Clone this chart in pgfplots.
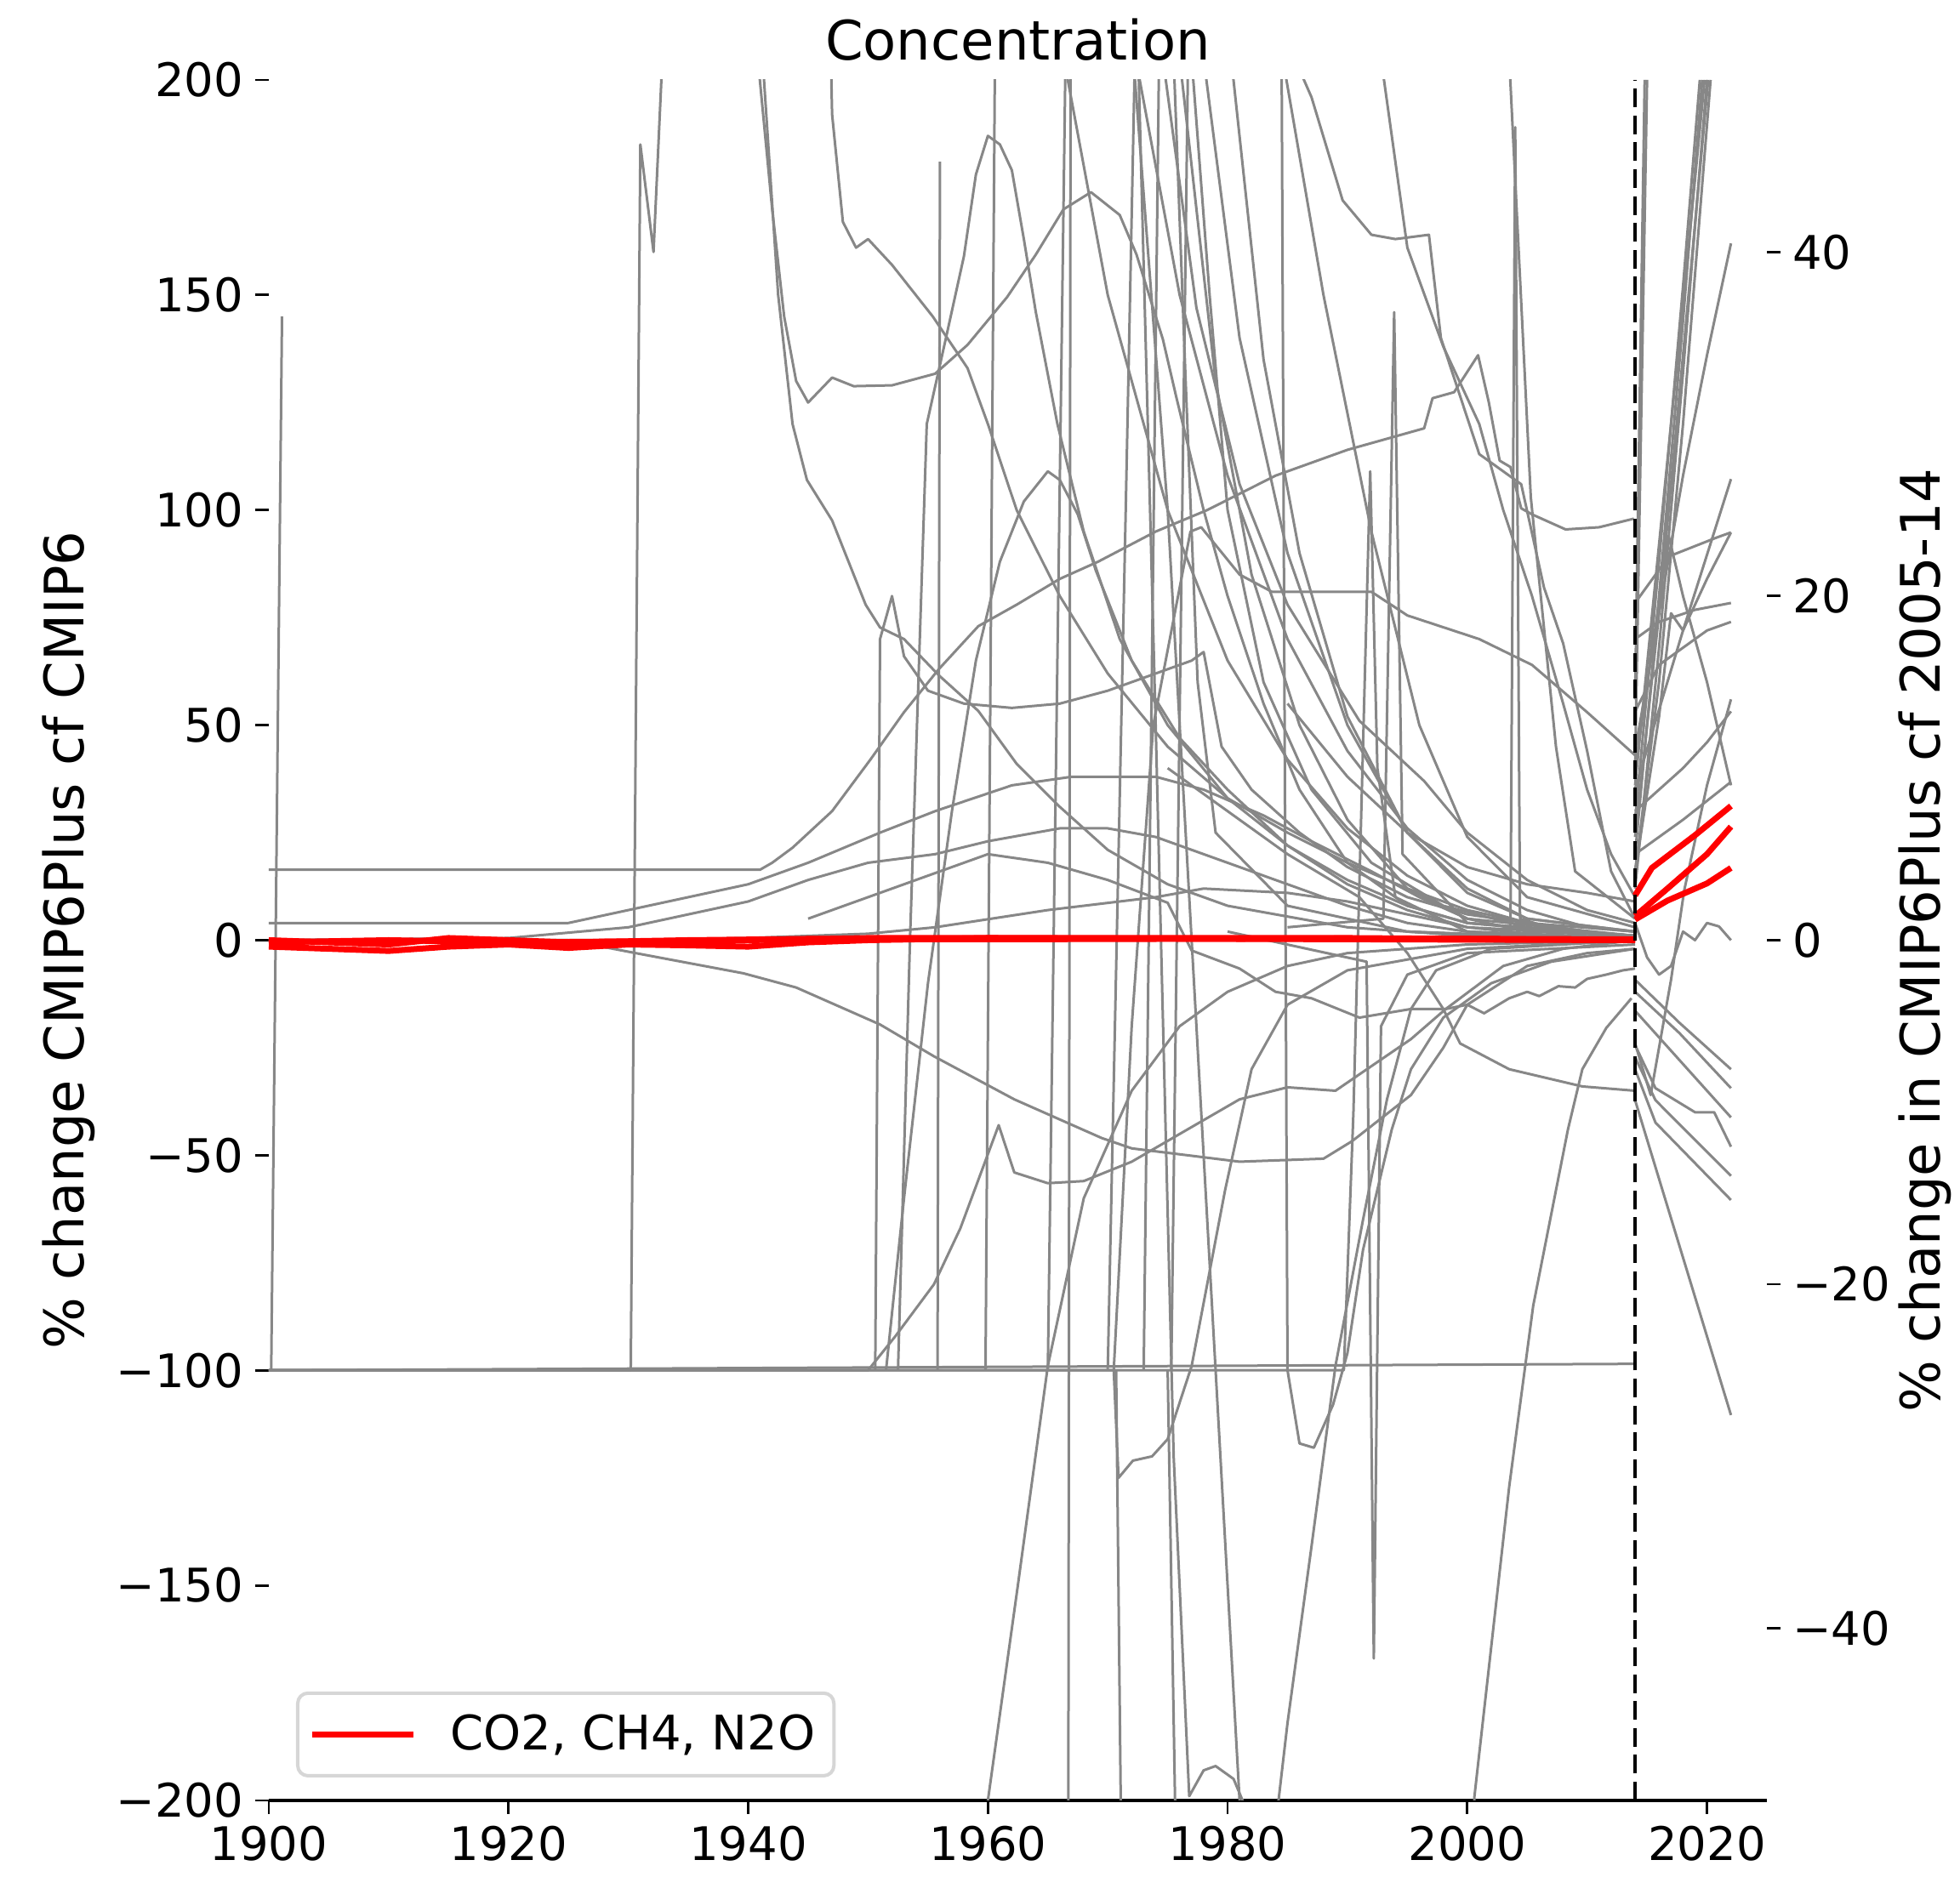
\documentclass[border=0pt]{standalone}
\usepackage{fontspec}
\setmainfont{DejaVu Sans}
\usepackage{pgfplots}
\pgfplotsset{compat=1.18}
\definecolor{lg}{RGB}{135,135,135}
\definecolor{rd}{RGB}{255,0,0}
\definecolor{legframe}{RGB}{214,214,214}
\newcommand{\tfs}{\fontsize{13.6}{16}\selectfont}
\newcommand{\lfs}{\fontsize{16}{19}\selectfont}
\pgfplotsset{
  g/.style={color=lg, line width=0.75pt, line join=round, forget plot},
  r/.style={color=rd, line width=1.75pt, line join=round},
  base/.style={
    scale only axis, width=440.25pt, height=505.75pt,
    xmin=1900, xmax=2025,
    no markers, clip=true,
    tick align=outside, major tick length=4pt,
    every tick/.style={black, line width=0.7pt},
    tick label style={font=\tfs},
  },
}
\begin{document}
\begin{tikzpicture}
\useasboundingbox (-79pt,-22.5pt) rectangle (497pt,529.25pt);
\begin{axis}[base,
  ymin=-200, ymax=200,
  axis x line*=bottom, axis y line*=left,
  x axis line style={black, line width=0.8pt},
  y axis line style={draw=none},
  xtick={1900,1920,1940,1960,1980,2000,2020},
  xticklabels={1900,1920,1940,1960,1980,2000,2020},
  ytick={-200,-150,-100,-50,0,50,100,150,200},
  yticklabels={−200,−150,−100,−50,0,50,100,150,200},
  ylabel={\% change CMIP6Plus cf CMIP6},
  every axis y label/.style={at={(axis description cs:-0.13345,0.5)}, rotate=90, anchor=center, font=\lfs},
  title={Concentration},
  every axis title/.style={at={(axis description cs:0.5,1.0117)}, anchor=base, font=\lfs},
  legend style={at={(axis description cs:0.01817,0.01335)}, anchor=south west,
    draw=legframe, line width=1pt, rounded corners=3pt, fill=white,
    inner xsep=3.5pt, inner ysep=4.2pt, font=\fontsize{14}{16}\selectfont,
    nodes={inner sep=2pt},
    /tikz/every odd column/.append style={column sep=8.2pt}},
  legend cell align=left,
  legend image code/.code={\draw[#1] (0pt,0pt) -- (29.5pt,0pt);},
]
% bottom flat -100 line
\addplot[g] coordinates {(1900,-100)(2014,-98.5)};
\addplot[g] coordinates {(1900.2,-100)(1901.1,145)};
\addplot[g] coordinates {(1900,-100)(1930.2,-100)(1931,185)(1932.1,160)(1933,215)};
% 16 line
\addplot[g] coordinates {(1900,16.4)(1941,16.4)(1942,18)(1943.7,21.5)(1947,30)(1950.2,42)(1953,53)(1955.9,63)(1959.2,73)(1962.4,78)(1966,84)(1969.2,88)(1974,95)(1978.3,100)(1984,108)(1990,114)(1996.4,119)(1997.1,126)(1998.9,127.4)(2000.9,136)(2001.8,125)(2002.7,111.5)(2003.6,110)(2004.5,100.4)(2005.4,99)(2008.2,95.5)(2011,96)(2013.9,98)};
% D1 hump 174
\addplot[g] coordinates {(1940.8,205)(1942,170)(1943,145)(1944,130)(1945,125)(1947,130.8)(1948.8,128.8)(1952,129)(1955.6,131.7)(1958.3,138.4)(1961.6,149.5)(1964,159.4)(1966.3,169.9)(1968.6,173.9)(1971,168.6)(1972.4,159.4)(1974.6,139.7)(1975.7,126.5)(1978,100)(1980,80)(1983,55)(1986,35)(1990,18)(1995,8)(2000,4)(2014,1)};
% D2
\addplot[g] coordinates {(1941.2,205)(1942.5,150)(1943.7,120)(1944.9,107)(1947,97.6)(1949.8,78)(1951,72.7)(1953,70)(1955.9,61.6)(1959.2,53.3)(1962.4,41)(1966,31)(1970,21)(1975,13)(1980,8)(1990,3)(2000,1)(2014,0.5)};
% D3
\addplot[g] coordinates {(1946.9,205)(1947,192)(1947.9,167)(1949,161)(1950,163)(1952,157)(1955.4,145)(1958.3,133)(1960,120)(1962.4,100)(1966,80)(1970,62)(1975,45)(1980,33)(1985,25)(1990,18)(1995,12)(2000,7)(2005,4)(2010,2)(2014,1)};
% P187
\addplot[g] coordinates {(1952.5,-100)(1953.5,0)(1954.9,120)(1956.5,140)(1958,159)(1959,178)(1960,187)(1961,185)(1962,179)(1963,163)(1964,146)(1965.8,120)(1968,95)(1971,70)(1975,50)(1980,33)(1985,22)(1990,14)(1995,8)(2000,4)(2014,1)};
% P110
\addplot[g] coordinates {(1951.5,-100)(1953,-60)(1955,-10)(1957,30)(1959,65)(1961,88)(1963,102)(1965,109)(1966,107)(1967.5,99)(1969,86)(1972,65)(1976,47)(1980,35)(1985,22)(1990,13)(1995,7)(2000,3)(2007,1)(2014,0.5)};
% S1
\addplot[g] coordinates {(1950.6,-100)(1951,70)(1952,80)(1953,66)(1955,58)(1958,55)(1962,54)(1966,55)(1970,58)(1974,62)(1977,65)(1978,67)(1979.5,45)(1982,35)(1986,25)(1990,17)(1995,10)(2000,6)(2005,4)(2014,2)};
% M43
\addplot[g] coordinates {(1970.5,-100)(1972,-20)(1973.8,50)(1976.9,95)(1977.8,96)(1981,85)(1983.7,81)(1992,81)(1995,75.5)(2001,70)(2005.4,64)(2010,53)(2014,43)};
% G5a,b,c
\addplot[g] coordinates {(1900,4)(1925,4)(1930,7)(1940,13)(1945,18)(1951,25)(1955.6,30)(1962,36)(1967,38)(1974,38)(1978,35)(1983,29)(1987,23)(1992,16)(1996,10)(2000,5)(2005,2)(2014,1)};
\addplot[g] coordinates {(1900,0)(1920,0.5)(1930,3)(1940,9)(1945,14)(1950,18)(1955.6,20)(1960,23)(1966,26)(1970,26)(1974,24)(1980,18)(1985,13)(1990,8)(1995,4)(2000,2)(2014,0.5)};
\addplot[g] coordinates {(1900,0)(1930,0)(1940,0.5)(1950,1.5)(1955.6,3)(1965,7)(1974,10)(1978,12)(1985,11)(1990,9)(1995,6)(2000,3)(2014,1)};
% G6
\addplot[g] coordinates {(1900,0)(1925,0)(1930.6,-3)(1939.6,-7.7)(1944,-11)(1951,-19.6)(1955.5,-27)(1962.2,-37)(1969.5,-46)(1972,-48.4)(1981,-51.5)(1988,-50.8)(1990.4,-46.7)(1995.3,-36)(1998,-25)(2000,-15)(2005,-6)(2010,-3)(2014,-2)};
% G7
\addplot[g] coordinates {(1900,-100)(1950,-100)(1952.3,-92)(1955.5,-80)(1957.7,-67)(1960.9,-43)(1962.2,-54)(1965,-56.5)(1968,-56)(1972,-51.5)(1981,-37)(1985,-34.2)(1989,-35)(1995.3,-23)(1998.2,-16)(2003,-6)(2008,-2)(2014,0)};
% B1
\addplot[g] coordinates {(1959,-230)(1960,-200)(1962.5,-150)(1965,-99)(1968,-60)(1972,-35)(1976,-20)(1980,-12)(1985,-6)(1990,-3)(2000,-1)(2014,0)};
% V6
\addplot[g] coordinates {(1900,-100)(1970.5,-100)(1970.9,-125)(1972.1,-121)(1973.7,-120)(1975,-116)(1977,-99)(1979.8,-58)(1982,-30)(1985,-15)(1990,-7)(2000,-2)(2014,0)};
\addplot[g] coordinates {(1970.7,-100)(1971.2,-230)};
\addplot[g] coordinates {(1975,-100)(1975.8,-230)};
% DB
\addplot[g] coordinates {(1972,210)(1975,100)(1977,0)(1979,-100)(1981,-200)(1982,-230)(1983,-230)(1985,-182)(1987,-141)(1989,-99)(1991.3,-65)(1993.3,-37)(1995.3,-16)(1997.4,-7)(2002,-2)(2014,0)};
\addplot[g] coordinates {(1972.5,210)(1974,50)(1975.5,-120)(1976.8,-199)(1978,-193)(1979,-192)(1980.5,-195)(1982,-205)};
% V12
\addplot[g] coordinates {(1984.5,210)(1985,-100)(1986,-117)(1987.2,-118)(1988.8,-108)(1990,-96)(1991.3,-72)(1993.7,-44)(1995.3,-30)(1998,-18)(2002,-10)(2007,-5)(2014,-2)};
% V11
\addplot[g] coordinates {(1980,2)(1991.6,-5)(1992.2,-167)(1992.8,-20)(1995,-8)(2000,-3)(2014,-1)};
% V10
\addplot[g] coordinates {(1900,-100)(1989.7,-100)(1990.5,-40)(1991.9,109)(1992.5,40)(1994,10)(2000,2)(2014,0)};
\addplot[g] coordinates {(1985,3)(1993,5)(1993.9,146)(1994.6,20)(2000,4)(2014,0.5)};
% D4
\addplot[g] coordinates {(1984.8,210)(1987,196)(1989.6,172)(1992,164)(1994,163)(1996.8,164)(1997.8,140)(2001,113)(2004.5,106)(2006.4,82)(2008,69)(2010,44)(2012,16)(2014,5)};
% T lines
\addplot[g] coordinates {(1966,210)(1970,150)(1975,100)(1980,65)(1985,42)(1990,26)(1995,15)(2000,8)(2005,4)(2010,2)(2014,1)};
\addplot[g] coordinates {(1972,210)(1976,150)(1980,108)(1985,70)(1990,44)(1995,26)(2000,14)(2005,7)(2010,3)(2014,2)};
\addplot[g] coordinates {(1974.6,205)(1977.4,147)(1981,106)(1985,78)(1991,51)(1996.4,37)(2000,25)(2005,14)(2010,7)(2014,4)};
\addplot[g] coordinates {(1976,205)(1979,130)(1982,85)(1986,50)(1990,28)(1995,12)(2000,5)(2014,1)};
\addplot[g] coordinates {(1978,205)(1981,140)(1985,90)(1990,50)(1995,25)(2000,12)(2005,5)(2014,2)};
\addplot[g] coordinates {(1980.3,205)(1983,135)(1986,90)(1990,52)(1995,25)(2000,11)(2005,5)(2014,2)};
\addplot[g] coordinates {(1984.6,205)(1988,150)(1992,95)(1996,50)(2000,24)(2005,10)(2014,3)};
\addplot[g] coordinates {(1992.8,205)(1995,161)(1998,138)(2001,120)(2003,100)(2005.4,80)(2008,55)(2010,35)(2012,20)(2014,10)};
\addplot[g] coordinates {(1975.5,205)(1976.5,130)(1977.5,60)(1979,25)(1985,8)(1995,2)(2014,0)};
\addplot[g] coordinates {(2003.5,205)(2005.3,103)(2007.4,45)(2009,16)(2014,5)};
\addplot[g] coordinates {(1977,205)(1978.5,150)(1980,100)(1983,60)(1987,35)(1992,18)(1998,8)(2005,3)(2014,1)};
% vertical spikes
\addplot[g] coordinates {(1955.8,-100)(1956,181)};
\addplot[g] coordinates {(1959.8,-100)(1960.6,210)};
\addplot[g] coordinates {(1965,-100)(1966.5,210)};
\addplot[g] coordinates {(1966.7,-230)(1966.9,210)};
\addplot[g] coordinates {(1970,-100)(1971.5,100)(1972.3,210)};
\addplot[g] coordinates {(1973,-100)(1974.3,210)};
\addplot[g] coordinates {(1975.3,-100)(1976.7,205)};
\addplot[g] coordinates {(1995,2)(2003.6,1)(2004,189)(2004.4,5)(2008,2)(2014,1)};
% negative group
\addplot[g] coordinates {(1945,5)(1950,10)(1960,20)(1965,18)(1970,14)(1975,8.7)(1977,-2.4)(1981,-6.6)(1984,-12)(1987,-13.5)(1991,-18)(1995.3,-16)(1998.2,-16)(2000,-15)(2001.4,-17)(2003.5,-13.5)(2005,-12)(2006,-13)(2007.6,-10.7)(2009,-11)(2010,-9)(2011.6,-8)(2013,-7)(2014,-6.6)};
\addplot[g] coordinates {(1975,40)(1985,20)(1991,10)(1995,-3)(1998,-16)(1999.4,-24)(2003.5,-30)(2009.6,-34)(2014,-35)};
\addplot[g] coordinates {(1985,55)(1990,38)(1995,25)(2000,17)(2005,13)(2010,11)(2014,9)};
\addplot[g] coordinates {(1999.5,-260)(2000.6,-199)(2003.5,-127)(2005.5,-85)(2008.4,-44)(2009.6,-30)(2011.6,-20.4)(2013.7,-13.5)};
% red, pre-2014
\addplot[r] coordinates {(1900,-1.5)(1905,-2)(1910,-2.5)(1915,-1.5)(1920,-1)(1925,-1.8)(1930,-1)(1935,-1.2)(1940,-1.5)(1945,-0.5)(1950,0)(1960,0.5)(1970,0.5)(1980,0.5)(1990,0.5)(2000,0.3)(2014,0)};
\addlegendentry{CO2, CH4, N2O}
\addplot[r, forget plot] coordinates {(1900,-0.5)(1910,0)(1920,-0.5)(1930,-0.3)(1940,0)(1950,0.5)(1960,0.5)(1980,0.3)(2014,0)};
\addplot[r, forget plot] coordinates {(1900,0)(1910,-1)(1915,0.5)(1925,-0.5)(1935,0)(1945,0.3)(1960,0.2)(1990,0.4)(2014,0.2)};
\end{axis}
\begin{axis}[base,
  ymin=-50, ymax=50,
  axis x line=none, axis y line*=right,
  y axis line style={draw=none},
  ytick={-40,-20,0,20,40},
  yticklabels={−40,−20,0,20,40},
  ylabel={\% change in CMIP6Plus cf 2005-14},
  every axis y label/.style={at={(axis description cs:1.1056,0.5)}, rotate=90, anchor=center, font=\lfs},
]
\addplot[g] coordinates {(2014,14)(2014.8,50)};
\addplot[g] coordinates {(2014,10)(2015,50)};
\addplot[g] coordinates {(2014,5)(2016,20)(2018,36)(2019.6,50)};
\addplot[g] coordinates {(2014,7)(2016,22)(2018,38)(2019.4,50)};
\addplot[g] coordinates {(2014,3)(2016,17)(2018,33)(2020,50)};
\addplot[g] coordinates {(2014,9)(2016,23)(2018,37)(2019.8,50)};
\addplot[g] coordinates {(2014,4)(2016,15)(2018,30)(2020.3,50)};
\addplot[g] coordinates {(2014,6)(2016,19)(2018,34)(2020.1,50)};
\addplot[g] coordinates {(2014,11)(2016,19)(2018,27)(2020,34)(2022,40.5)};
\addplot[g] coordinates {(2014,8.8)(2018,18)(2022,26.8)};
\addplot[g] coordinates {(2014,4)(2016,13)(2017,19)(2018,18)(2020,21)(2022,23.7)};
\addplot[g] coordinates {(2014,17.5)(2016,18.5)(2019,19.2)(2022,19.6)};
\addplot[g] coordinates {(2014,19.6)(2016.8,22.3)(2020.8,23.4)(2022,23.7)};
\addplot[g] coordinates {(2014,13.3)(2016,16)(2018,17)(2020,18)(2022,18.5)};
\addplot[g] coordinates {(2014,7.5)(2018,10)(2020,11.5)(2022,13.3)};
\addplot[g] coordinates {(2014,5)(2018,7)(2022,9.2)};
\addplot[g] coordinates {(2014,10)(2016.8,23.5)(2018,20)(2020,15)(2022,9)};
\addplot[g] coordinates {(2014,-6)(2015.3,-9)(2017,-2.3)(2018.1,2.9)(2020,9)(2022,14)};
\addplot[g] coordinates {(2014,1)(2015,-1)(2016,-2)(2017,-1.5)(2018,0.5)(2019,0)(2020,1)(2021,0.8)(2022,0)};
\addplot[g] coordinates {(2014,-2.3)(2017.7,-4.8)(2022,-7.5)};
\addplot[g] coordinates {(2014,-3)(2017.7,-5.4)(2022,-8.6)};
\addplot[g] coordinates {(2014,-4.1)(2022,-10.3)};
\addplot[g] coordinates {(2014,-6.1)(2015.7,-8.6)(2019,-10)(2020.6,-10)(2022,-12)};
\addplot[g] coordinates {(2014,-6.8)(2015.7,-9.3)(2022,-13.7)};
\addplot[g] coordinates {(2014,-7.5)(2015.7,-10.6)(2022,-15.1)};
\addplot[g] coordinates {(2014,-9.3)(2022,-27.6)};
% red post-2014
\addplot[r] coordinates {(2014,2.6)(2015.4,4.2)(2019,6.1)(2022,7.8)};
\addplot[r] coordinates {(2014,1.4)(2016.7,3.0)(2020,5.0)(2022,6.6)};
\addplot[r] coordinates {(2014,1.2)(2016.7,2.3)(2020,3.3)(2022,4.2)};
% 2014 marker
\addplot[black, line width=1.2pt, dash pattern=on 5.5pt off 2.4pt] coordinates {(2014,-50)(2014,50)};
\end{axis}
\end{tikzpicture}
\end{document}
